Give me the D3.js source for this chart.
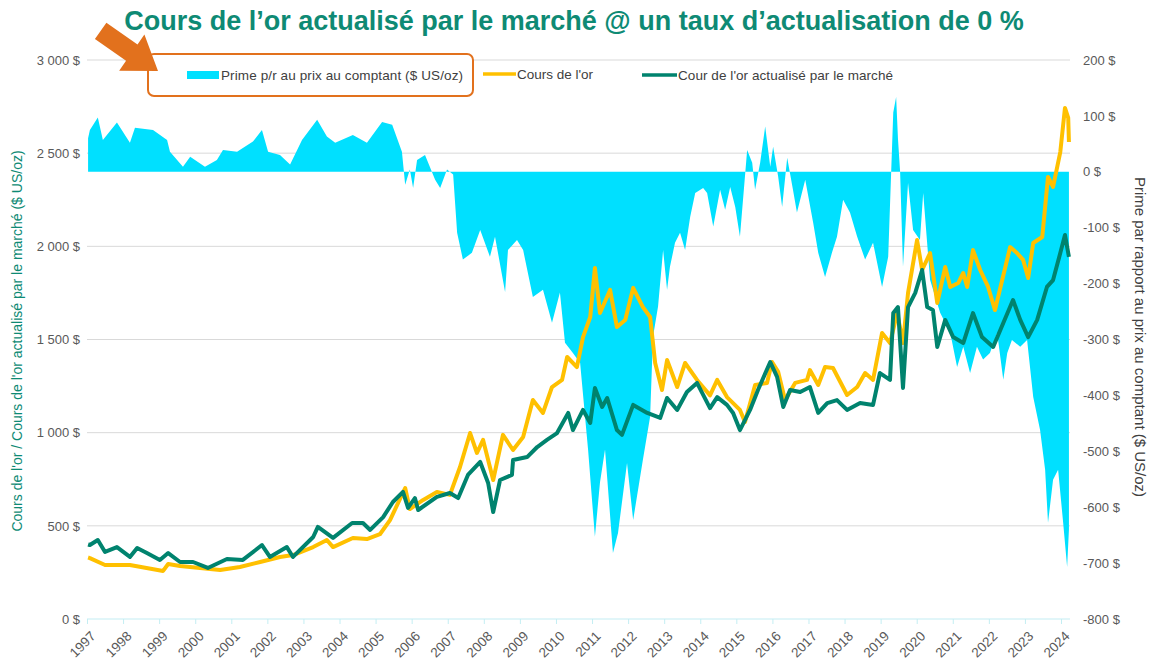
<!DOCTYPE html>
<html><head><meta charset="utf-8">
<script src="https://cdn.jsdelivr.net/npm/d3@7"></script>
<style>
html,body{margin:0;padding:0;background:#fff;}
svg{display:block;font-family:"Liberation Sans",Arial,sans-serif;}
</style></head>
<body>
<svg id="chart" width="1149" height="668"></svg>
<script>
// ---- data (x positions are in axis-years) ----
const years = d3.range(1997, 2025);
const leftTicks = [0, 500, 1000, 1500, 2000, 2500, 3000];
const rightTicks = [-800, -700, -600, -500, -400, -300, -200, -100, 0, 100, 200];

const premT = [1997.03,1997.08,1997.30,1997.44,1997.83,1998.19,1998.33,1998.83,1999.22,1999.30,1999.66,1999.86,2000.27,2000.60,2000.77,2001.16,2001.60,2001.85,2002.02,2002.35,2002.63,2002.96,2003.38,2003.65,2003.88,2004.37,2004.76,2005.18,2005.46,2005.73,2005.82,2005.95,2006.04,2006.15,2006.37,2006.65,2006.79,2006.98,2007.15,2007.26,2007.42,2007.67,2007.90,2008.17,2008.31,2008.59,2008.67,2008.92,2009.09,2009.36,2009.64,2009.89,2010.11,2010.25,2010.47,2010.67,2010.89,2011.08,2011.22,2011.36,2011.58,2011.72,2011.97,2012.14,2012.41,2012.61,2012.69,2012.83,2012.97,2013.08,2013.16,2013.30,2013.44,2013.58,2013.72,2013.86,2014.08,2014.19,2014.36,2014.55,2014.69,2014.83,2014.97,2015.10,2015.30,2015.44,2015.52,2015.66,2015.80,2015.94,2016.02,2016.16,2016.27,2016.41,2016.57,2016.68,2016.91,2017.13,2017.27,2017.46,2017.65,2017.79,2017.96,2018.15,2018.35,2018.57,2018.79,2019.04,2019.21,2019.35,2019.43,2019.48,2019.54,2019.62,2019.76,2019.90,2020.09,2020.18,2020.37,2020.65,2020.93,2021.12,2021.29,2021.48,2021.67,2021.84,2022.03,2022.23,2022.40,2022.51,2022.64,2022.87,2023.06,2023.23,2023.42,2023.56,2023.64,2023.78,2023.92,2024.06,2024.17,2024.22];
const premV = [60,75,97,57,88,52,79,75,57,36,9,27,9,21,39,36,54,75,36,30,13,57,93,63,52,66,52,89,84,36,-23,4,-29,21,30,-14,-29,4,-5,-109,-157,-145,-104,-152,-116,-215,-140,-122,-140,-224,-211,-270,-216,-306,-324,-342,-497,-653,-556,-497,-682,-646,-521,-623,-515,-438,-295,-241,-140,-211,-170,-127,-109,-140,-81,-38,-29,-38,-98,-32,-68,-27,-63,-116,39,16,-32,16,81,9,45,-9,-63,25,-32,-73,-14,-91,-145,-188,-145,-116,-50,-73,-116,-157,-127,-206,-152,106,134,60,0,-170,-20,-104,-122,-38,-193,-252,-288,-349,-313,-360,-313,-336,-324,-288,-372,-324,-301,-313,-301,-403,-462,-533,-628,-551,-533,-628,-707,-640];

const goldT = [1997.03,1997.08,1997.50,1998.19,1999.11,1999.25,1999.58,2000.41,2000.69,2001.24,2001.80,2002.35,2002.71,2003.27,2003.65,2003.82,2004.37,2004.76,2005.12,2005.40,2005.82,2005.95,2006.32,2006.70,2007.06,2007.34,2007.62,2007.81,2007.98,2008.26,2008.53,2008.81,2009.09,2009.36,2009.64,2009.89,2010.17,2010.31,2010.58,2010.75,2010.95,2011.08,2011.22,2011.50,2011.69,2011.92,2012.14,2012.41,2012.61,2012.75,2012.94,2013.08,2013.36,2013.58,2013.91,2014.27,2014.47,2014.74,2015.10,2015.24,2015.52,2015.85,2015.99,2016.16,2016.35,2016.63,2016.96,2017.04,2017.27,2017.46,2017.68,2018.07,2018.35,2018.57,2018.79,2019.04,2019.26,2019.46,2019.62,2019.76,2020.01,2020.15,2020.37,2020.57,2020.79,2020.93,2021.15,2021.29,2021.40,2021.56,2021.76,2021.98,2022.17,2022.37,2022.59,2022.78,2022.95,2023.09,2023.23,2023.48,2023.56,2023.64,2023.78,2023.98,2024.11,2024.20,2024.22];
const goldV = [330,327,290,290,258,295,284,268,263,279,306,333,343,386,424,386,435,429,455,531,703,590,639,682,666,816,998,891,961,746,988,907,977,1175,1106,1245,1283,1406,1352,1513,1621,1884,1642,1766,1567,1605,1777,1674,1621,1374,1229,1390,1245,1374,1283,1200,1283,1191,1122,1057,1256,1267,1379,1326,1175,1267,1283,1336,1256,1352,1347,1202,1245,1320,1283,1535,1481,1642,1481,1750,2034,1873,1964,1696,1889,1782,1803,1857,1782,1980,1873,1782,1658,1819,1996,1964,1927,1830,2018,2050,2211,2372,2319,2506,2743,2689,2560];

const mktT = [1997.03,1997.08,1997.30,1997.50,1997.83,1998.19,1998.39,1998.66,1999.02,1999.25,1999.58,1999.94,2000.35,2000.88,2001.32,2001.85,2002.07,2002.54,2002.71,2003.27,2003.40,2003.82,2004.35,2004.65,2004.85,2005.21,2005.48,2005.76,2005.90,2006.09,2006.18,2006.70,2007.06,2007.29,2007.56,2007.90,2008.12,2008.26,2008.45,2008.78,2008.81,2009.20,2009.48,2009.75,2010.03,2010.34,2010.47,2010.75,2010.95,2011.08,2011.28,2011.42,2011.69,2011.83,2012.14,2012.53,2012.89,2013.08,2013.36,2013.63,2013.91,2014.27,2014.47,2014.74,2014.91,2015.10,2015.38,2015.60,2015.94,2016.13,2016.30,2016.49,2016.77,2017.04,2017.27,2017.52,2017.79,2018.07,2018.43,2018.79,2018.98,2019.26,2019.35,2019.48,2019.62,2019.76,2019.96,2020.15,2020.29,2020.45,2020.57,2020.79,2021.01,2021.29,2021.56,2021.81,2022.12,2022.40,2022.67,2022.87,2023.09,2023.34,2023.61,2023.78,2023.98,2024.11,2024.22];
const mktV = [400,397,424,360,386,333,381,354,317,354,306,306,274,322,317,397,333,386,333,440,494,435,515,515,478,547,628,682,596,649,585,655,676,649,773,843,730,574,746,773,853,869,923,961,998,1106,1014,1122,1052,1240,1138,1186,1014,988,1149,1106,1079,1186,1122,1218,1267,1132,1191,1149,1106,1014,1122,1229,1379,1299,1138,1229,1218,1245,1106,1159,1175,1122,1159,1149,1320,1283,1642,1674,1240,1674,1750,1873,1674,1658,1460,1605,1513,1481,1642,1513,1460,1589,1712,1605,1513,1605,1782,1819,1964,2061,1943];

// ---- layout ----
const svg = d3.select("#chart");
const L = 87, R = 1070, T = 60, B = 619;
const x = d3.scaleLinear().domain([1997, 2024]).range([87, 1061]);
const yL = d3.scaleLinear().domain([0, 3000]).range([B, T]);
const yR = d3.scaleLinear().domain([-800, 200]).range([B, T]);

const C = {cyan:"#00E0FF", gold:"#FFC000", teal:"#00836E", title:"#0E8A74", grid:"#D9D9D9", text:"#595959", orange:"#E2711D"};
const FF = "Liberation Sans, Arial, sans-serif";

const fmtL = d => (d >= 1000 ? Math.floor(d/1000) + "\u00a0" + String(d%1000).padStart(3,"0") : String(d)) + " $";
const fmtR = d => d + " $";

// gridlines (left axis)
svg.append("g").selectAll("line").data(leftTicks.filter(d => d > 0)).join("line")
  .attr("x1", L).attr("x2", R).attr("y1", d => yL(d)).attr("y2", d => yL(d))
  .attr("stroke", C.grid).attr("stroke-width", 1);

// premium area
const premData = premT.map((t, i) => ({t, v: premV[i]}));
svg.append("path").datum(premData)
  .attr("fill", C.cyan)
  .attr("d", d3.area().x(d => x(d.t)).y0(yR(0)).y1(d => yR(d.v)));

// x axis line + ticks
svg.append("line").attr("x1", L).attr("x2", R).attr("y1", B).attr("y2", B).attr("stroke", "#C4EEF3").attr("stroke-width", 1.2);
const xa = svg.append("g").attr("transform", `translate(0,${B})`)
  .call(d3.axisBottom(x).tickValues(years).tickFormat(d3.format("d")).tickSize(5).tickSizeOuter(0));
xa.select(".domain").remove();
xa.selectAll(".tick line").attr("stroke", "#C4EEF3");
xa.selectAll(".tick text")
  .attr("fill", C.text).attr("font-size", 13.5).attr("font-family", FF)
  .attr("text-anchor", "end").attr("dy", null).attr("y", 0)
  .attr("transform", "translate(9,18) rotate(-45)");

// lines
const line = d3.line().x(d => x(d.t)).y(d => yL(d.v)).curve(d3.curveLinear);
svg.append("path").datum(goldT.map((t, i) => ({t, v: goldV[i]})))
  .attr("fill", "none").attr("stroke", C.gold).attr("stroke-width", 4).attr("stroke-linejoin", "round").attr("d", line);
svg.append("path").datum(mktT.map((t, i) => ({t, v: mktV[i]})))
  .attr("fill", "none").attr("stroke", C.teal).attr("stroke-width", 4).attr("stroke-linejoin", "round").attr("d", line);

// left axis
const la = svg.append("g").attr("transform", `translate(${L},0)`)
  .call(d3.axisLeft(yL).tickValues(leftTicks).tickFormat(fmtL).tickSize(0).tickPadding(7));
la.select(".domain").remove();
la.selectAll("text").attr("fill", C.text).attr("font-size", 13).attr("font-family", FF);

// right axis
const ra = svg.append("g").attr("transform", `translate(${R},0)`)
  .call(d3.axisRight(yR).tickValues(rightTicks).tickFormat(fmtR).tickSize(0).tickPadding(13));
ra.select(".domain").remove();
ra.selectAll("text").attr("fill", C.text).attr("font-size", 13).attr("font-family", FF);

// axis titles
svg.append("text").attr("transform", "translate(22,341) rotate(-90)")
  .attr("text-anchor", "middle").attr("fill", C.title).attr("font-size", 14)
  .text("Cours de l'or / Cours de l'or actualisé par le marché  ($ US/oz)");
svg.append("text").attr("transform", "translate(1135,337) rotate(90)")
  .attr("text-anchor", "middle").attr("fill", "#404040").attr("font-size", 15)
  .text("Prime par rapport au prix au comptant  ($ US/oz)");

// title
svg.append("text").attr("x", 574).attr("y", 30).attr("text-anchor", "middle")
  .attr("fill", C.title).attr("font-size", 27).attr("font-weight", "bold")
  .text("Cours de l’or actualisé par le marché @ un taux d’actualisation de 0 %");

// legend
svg.append("rect").attr("x", 148).attr("y", 54).attr("width", 325).attr("height", 42).attr("rx", 6)
  .attr("fill", "#fff").attr("stroke", C.orange).attr("stroke-width", 2);
const lg = svg.append("g").attr("font-size", 13.5).attr("fill", "#404040");
lg.append("rect").attr("x", 187).attr("y", 71).attr("width", 32).attr("height", 8).attr("fill", C.cyan);
lg.append("text").attr("x", 221).attr("y", 80).attr("textLength", 242).text("Prime p/r au prix au comptant ($ US/oz)");
lg.append("line").attr("x1", 483).attr("x2", 516).attr("y1", 74).attr("y2", 74).attr("stroke", C.gold).attr("stroke-width", 3.5);
lg.append("text").attr("x", 517).attr("y", 79).text("Cours de l'or");
lg.append("line").attr("x1", 642).attr("x2", 677).attr("y1", 75).attr("y2", 75).attr("stroke", C.teal).attr("stroke-width", 3.5);
lg.append("text").attr("x", 678).attr("y", 80).attr("textLength", 215).text("Cour de l'or actualisé par le marché");

// arrow
svg.append("path").attr("transform", "translate(158,71) rotate(35)")
  .attr("fill", C.orange)
  .attr("d", "M0,0 L-32,-22 L-32,-10 L-70,-10 L-70,10 L-32,10 L-32,22 Z");
</script>
</body></html>
